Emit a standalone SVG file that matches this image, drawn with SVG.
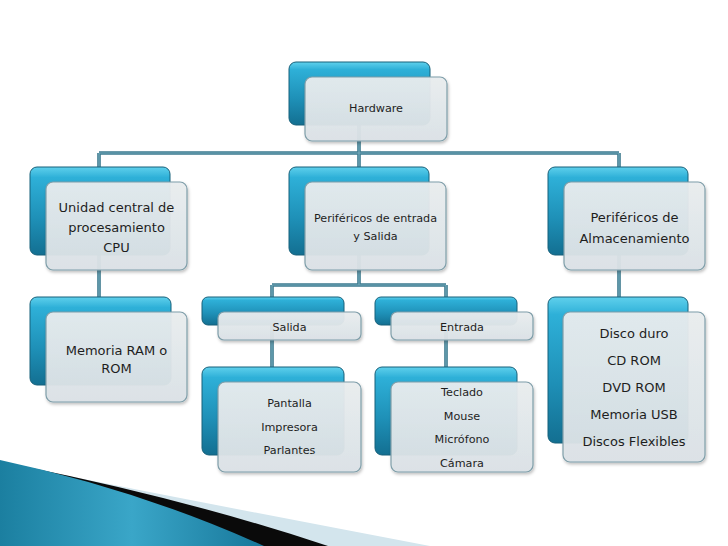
<svg xmlns="http://www.w3.org/2000/svg" width="728" height="546" viewBox="0 0 728 546">
<defs>
<linearGradient id="blue" x1="0" y1="0" x2="0" y2="1">
<stop offset="0" stop-color="#5fd0ec"/>
<stop offset="0.12" stop-color="#2eb0d8"/>
<stop offset="0.6" stop-color="#1e8fb6"/>
<stop offset="1" stop-color="#136f91"/>
</linearGradient>
<linearGradient id="grey" x1="0" y1="0" x2="0" y2="1">
<stop offset="0" stop-color="#e9edef"/>
<stop offset="1" stop-color="#dbe2e6"/>
</linearGradient>
<linearGradient id="swoosh" x1="0" y1="0" x2="1" y2="0">
<stop offset="0" stop-color="#1b7fa0"/>
<stop offset="0.5" stop-color="#3aa6c8"/>
<stop offset="1" stop-color="#17779a"/>
</linearGradient>
<filter id="sh" x="-10%" y="-10%" width="125%" height="130%">
<feDropShadow dx="1" dy="2" stdDeviation="1.5" flood-color="#000" flood-opacity="0.25"/>
</filter>
</defs>
<style>
.b{fill:url(#blue);stroke:#17607a;stroke-width:1}
.g{fill:url(#grey);fill-opacity:0.95;stroke:#7f9ea9;stroke-width:1.2;filter:url(#sh)}
.c1{fill:none;stroke:#3d7a8e;stroke-width:3.6}
.c2{fill:none;stroke:#74aabb;stroke-width:1.2}
text{font-family:"DejaVu Sans","Liberation Sans",sans-serif;fill:#1e1e1e;text-anchor:middle}
.s{font-size:11.2px}
.l{font-size:13px}
</style>
<rect width="728" height="546" fill="#ffffff"/>
<g id="decoration">
<path d="M58,474 Q250,512 430,546 L0,546 L0,470 Z" fill="#d3e5ed"/>
<path d="M22,466 Q190,500 328,546 L0,546 L0,462 Z" fill="#0a0a0a"/>
<path d="M0,460 Q140,490 264,546 L0,546 Z" fill="url(#swoosh)"/>
</g>
<g id="connectors">
<path class="c1" d="M359,125 V153 M99,153 H619 M99,153 V167 M359,153 V167 M619,153 V167 M99,255 V297 M359,255 V285 M272,285 H446 M272,285 V297 M446,285 V297 M272,325 V367 M446,325 V367 M619,255 V297"/>
<path class="c2" d="M359,125 V153 M99,153 H619 M99,153 V167 M359,153 V167 M619,153 V167 M99,255 V297 M359,255 V285 M272,285 H446 M272,285 V297 M446,285 V297 M272,325 V367 M446,325 V367 M619,255 V297"/>
</g>
<g id="hardware">
<rect class="b" x="289" y="62" width="141" height="63" rx="7"/>
<rect class="g" x="305" y="77" width="142" height="64" rx="7"/>
<text class="s" x="376" y="112">Hardware</text>
</g>
<g id="unidad">
<rect class="b" x="30" y="167" width="140" height="88" rx="7"/>
<rect class="g" x="46" y="182" width="141" height="88" rx="7"/>
<text class="l" x="116.5" y="212">Unidad central de</text>
<text class="l" x="116.5" y="232">procesamiento</text>
<text class="l" x="116.5" y="252">CPU</text>
</g>
<g id="perifericos-es">
<rect class="b" x="289" y="167" width="140" height="88" rx="7"/>
<rect class="g" x="305" y="182" width="141" height="88" rx="7"/>
<text class="s" x="375.5" y="222">Periféricos de entrada</text>
<text class="s" x="375.5" y="240">y Salida</text>
</g>
<g id="almacenamiento">
<rect class="b" x="548" y="167" width="140" height="88" rx="7"/>
<rect class="g" x="564" y="182" width="141" height="88" rx="7"/>
<text class="l" x="634.5" y="222">Periféricos de</text>
<text class="l" x="634.5" y="243">Almacenamiento</text>
</g>
<g id="memoria">
<rect class="b" x="30" y="297" width="141" height="88" rx="7"/>
<rect class="g" x="46" y="312" width="141" height="90" rx="7"/>
<text class="l" x="116.5" y="355">Memoria RAM o</text>
<text class="l" x="116.5" y="373">ROM</text>
</g>
<g id="salida">
<rect class="b" x="202" y="297" width="142" height="28" rx="6"/>
<rect class="g" x="218" y="312" width="143" height="28" rx="6"/>
<text class="s" x="289.5" y="331">Salida</text>
</g>
<g id="entrada">
<rect class="b" x="375" y="297" width="142" height="28" rx="6"/>
<rect class="g" x="391" y="312" width="142" height="28" rx="6"/>
<text class="s" x="462" y="331">Entrada</text>
</g>
<g id="salida-items">
<rect class="b" x="202" y="367" width="142" height="88" rx="7"/>
<rect class="g" x="218" y="382" width="143" height="90" rx="7"/>
<text class="s" x="289.5" y="407">Pantalla</text>
<text class="s" x="289.5" y="431">Impresora</text>
<text class="s" x="289.5" y="454">Parlantes</text>
</g>
<g id="entrada-items">
<rect class="b" x="375" y="367" width="142" height="88" rx="7"/>
<rect class="g" x="391" y="382" width="142" height="90" rx="7"/>
<text class="s" x="462" y="396">Teclado</text>
<text class="s" x="462" y="420">Mouse</text>
<text class="s" x="462" y="443">Micrófono</text>
<text class="s" x="462" y="467">Cámara</text>
</g>
<g id="almacenamiento-items">
<rect class="b" x="548" y="297" width="140" height="146" rx="7"/>
<rect class="g" x="563" y="312" width="142" height="150" rx="7"/>
<text class="l" x="634" y="338">Disco duro</text>
<text class="l" x="634" y="365">CD ROM</text>
<text class="l" x="634" y="392">DVD ROM</text>
<text class="l" x="634" y="419">Memoria USB</text>
<text class="l" x="634" y="446">Discos Flexibles</text>
</g>
</svg>
